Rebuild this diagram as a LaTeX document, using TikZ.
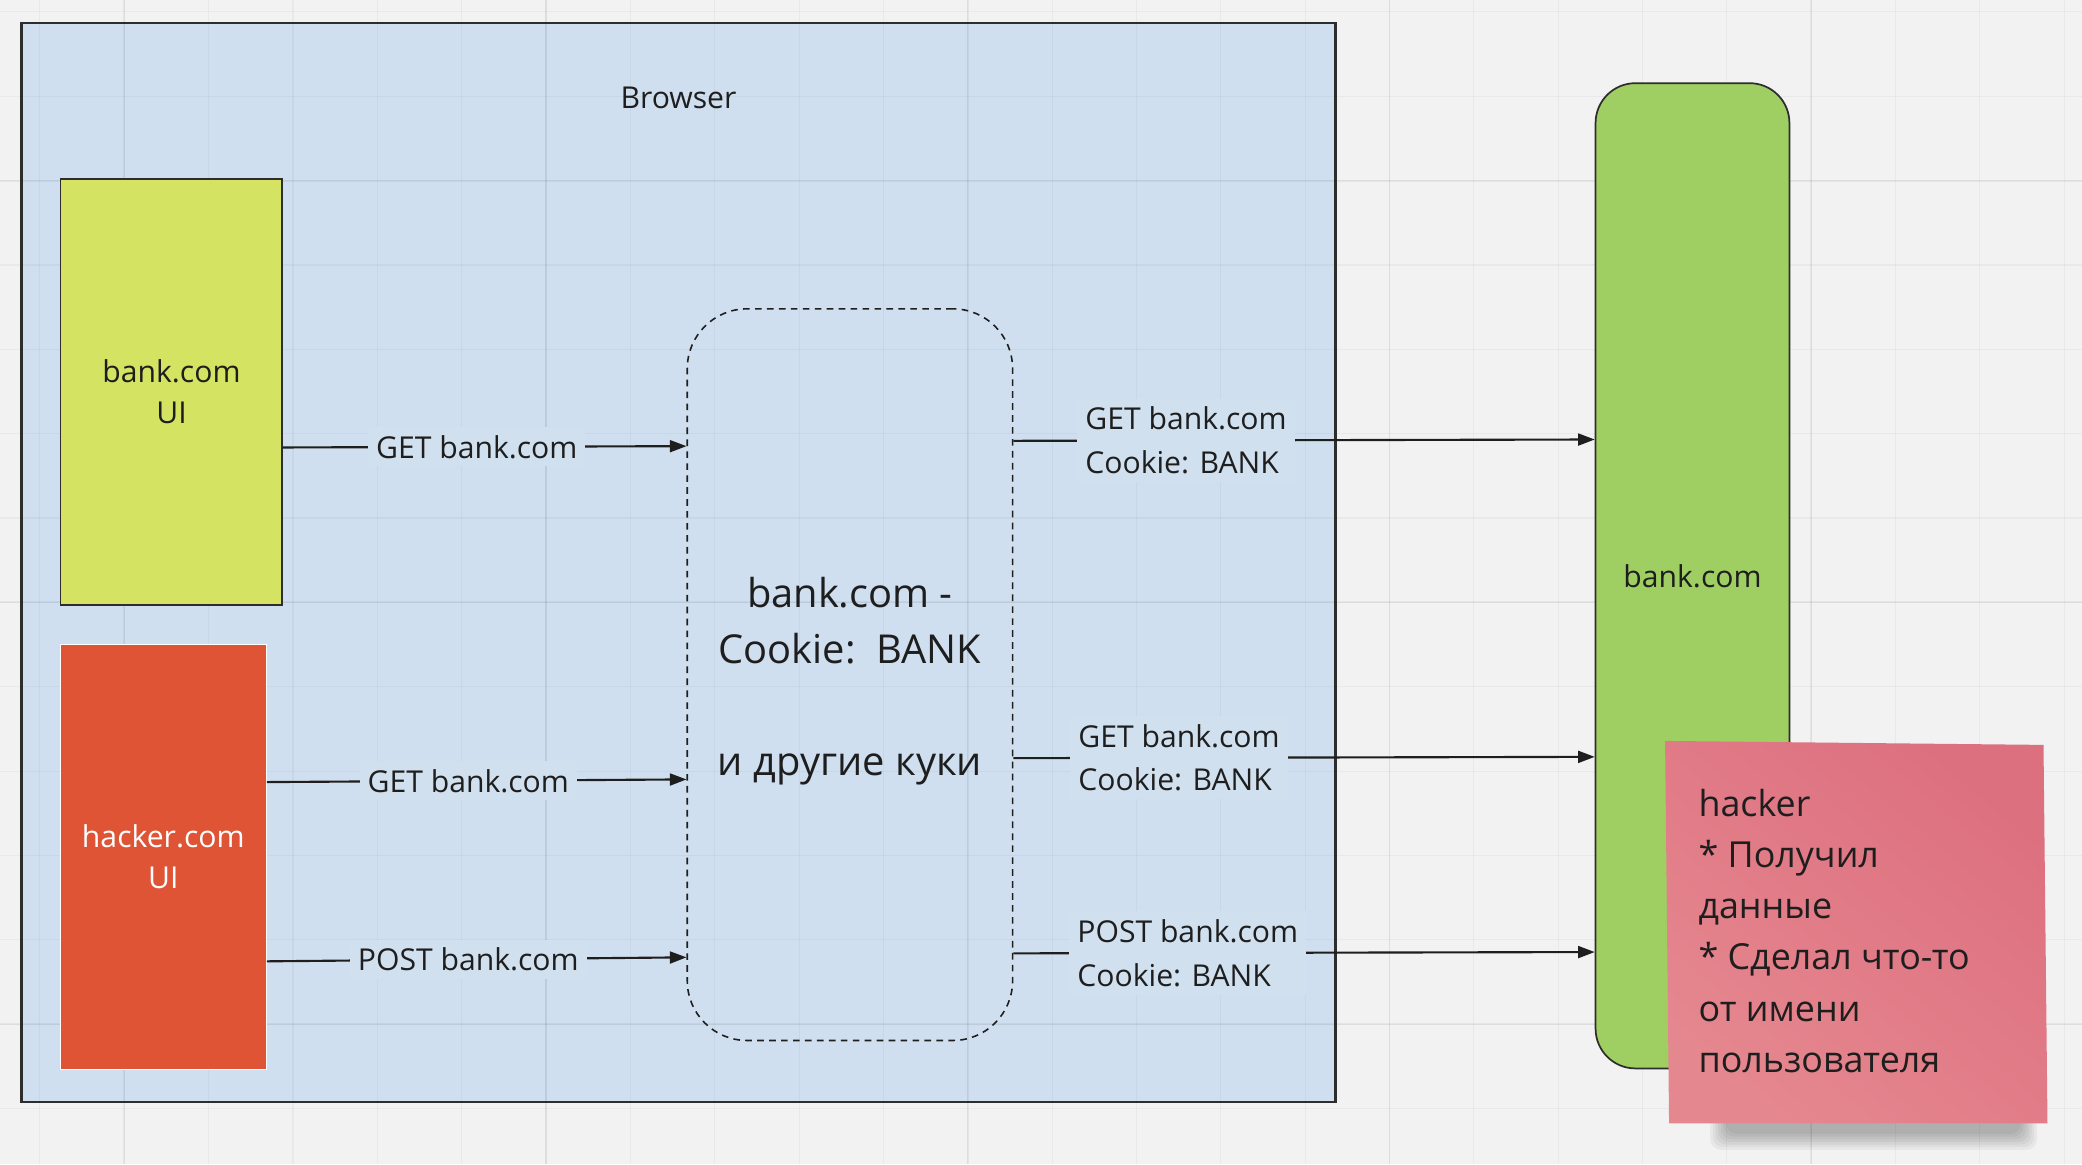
\documentclass[tikz,border=0pt]{standalone}
\usepackage{fontspec}
\setmainfont{Open Sans}
\usetikzlibrary{arrows.meta}
\definecolor{bggray}{RGB}{242,242,242}
\definecolor{browserblue}{RGB}{205,222,239}
\definecolor{labelblue}{RGB}{209,224,239}
\definecolor{uilime}{RGB}{212,227,97}
\definecolor{hackred}{RGB}{224,84,54}
\definecolor{servergreen}{RGB}{159,207,98}
\definecolor{stickydark}{RGB}{221,112,127}
\definecolor{stickylight}{RGB}{229,135,143}
\definecolor{inkgray}{RGB}{30,30,30}
\definecolor{edgegray}{RGB}{45,45,45}

\begin{document}
\begin{tikzpicture}[x=1pt,y=-1pt,
  every node/.style={text=inkgray, font=\fontsize{22.7}{31}\selectfont},
  box/.style={draw=edgegray, line width=1.3pt, anchor=north west, inner sep=0pt, align=center},
  arr/.style={draw=inkgray, line width=1.6pt, -{Triangle[length=12.5pt,width=9pt]}},
  lbl/.style={fill=labelblue, inner sep=6pt, align=left, font=\fontsize{22.7}{33}\selectfont}]
\useasboundingbox (0,0) rectangle (1568,877);
\fill[bggray] (0,0) rectangle (1568,877);
\node[box, fill=browserblue, fill opacity=0.9, minimum width=989pt, minimum height=812pt] (browser) at (16,17) {};
\foreach \k in {0,...,24} \draw[black, opacity=0.035, line width=0.8pt] (30.1+63.52*\k,0) -- ++(0,877);
\foreach \k in {0,...,13} \draw[black, opacity=0.035, line width=0.8pt] (0,9+63.52*\k) -- ++(1568,0);
\foreach \k in {0,...,4} \draw[black, opacity=0.05, line width=1.4pt] (93.6+317.6*\k,0) -- ++(0,877);
\foreach \k in {0,...,2} \draw[black, opacity=0.05, line width=1.4pt] (0,136+317.6*\k) -- ++(1568,0);
\draw[edgegray, line width=1.3pt] (browser.north west) rectangle (browser.south east);
\node (browsertitle) at (511,74) {Browser};

\node[box, fill=uilime, minimum width=167pt, minimum height=321pt] (bankui) at (45,134) {bank.com\\UI};
\node[box, draw=white, line width=1pt, fill=hackred, text=white, minimum width=155pt, minimum height=320pt] (hackui) at (45,485) {hacker.com\\UI};
\node[box, draw=inkgray, line width=1.2pt, dash pattern=on 5pt off 4pt, rounded corners=45pt,
  minimum width=245pt, minimum height=551pt] (store) at (517,232) {};
\node[align=center, font=\fontsize{30}{42}\selectfont] (storetext) at ([yshift=-5pt]store.center)
  {bank.com -\\Cookie:\ \ BANK\\[43pt]и другие куки};
\node[box, fill=servergreen, rounded corners=30pt, minimum width=146pt, minimum height=742pt] (server) at (1201,62) {bank.com};

\draw[arr] (bankui.east |- 0,337) -- node[lbl, pos=.48] {GET bank.com} (store.west |- 0,336);
\draw[arr] (hackui.east |- 0,589) -- node[lbl, pos=.48] {GET bank.com} (store.west |- 0,587);
\draw[arr] (hackui.east |- 0,724) -- node[lbl, pos=.48] {POST bank.com} (store.west |- 0,721);

\draw[arr] (store.east |- 0,332) -- node[lbl, pos=.297] {GET bank.com\\Cookie: BANK} (server.west |- 0,331);
\draw[arr] (store.east |- 0,571) -- node[lbl, pos=.285] {GET bank.com\\Cookie: BANK} (server.west |- 0,570);
\draw[arr] (store.east |- 0,718) -- node[lbl, pos=.3] {POST bank.com\\Cookie: BANK} (server.west |- 0,717);

\foreach \d in {0,2,...,12} \fill[black, opacity=0.045, rounded corners=8pt] (1288+\d,838) rectangle (1534-\d,866-\d);
\shade[top color=stickydark, bottom color=stickylight, shading angle=-40] (1254,558) -- (1539,561) -- (1542,846) -- (1257,846) -- cycle;
\node[anchor=north west, inner sep=0pt, align=left, font=\fontsize{27}{38.6}\selectfont] (note) at (1279,594)
  {hacker\\* Получил\\данные\\* Сделал что-то\\от имени\\пользователя};
\end{tikzpicture}
\end{document}
